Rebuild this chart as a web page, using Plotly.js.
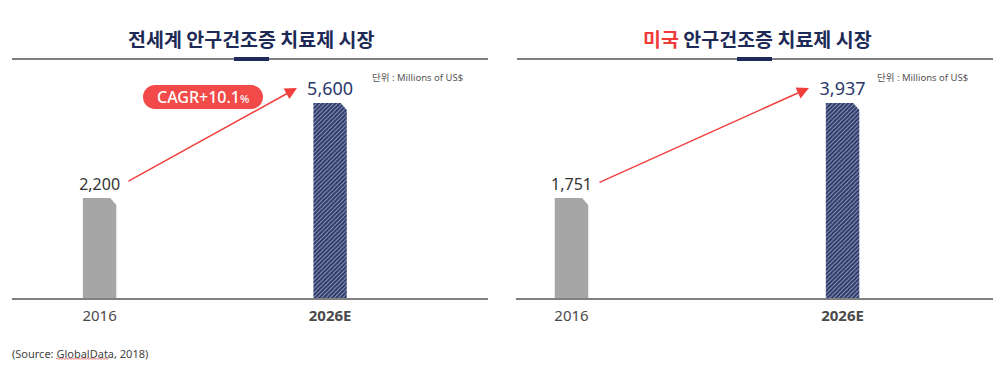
<!DOCTYPE html>
<html>
<head>
<meta charset="utf-8">
<script src="https://cdn.plot.ly/plotly-3.0.1.min.js"></script>
<style>html,body{margin:0;padding:0;background:#fff;}#chart{width:1000px;height:368px;}</style>
</head>
<body>
<div id="chart"></div>
<script>
// ---- data ----
const categories = ['2016', '2026E'];
const worldValues = [2200, 5600];
const usValues = [1751, 3937];
const worldTitle = '전세계 안구건조증 치료제 시장';
const usTitlePrefix = '미국';
const usTitleRest = ' 안구건조증 치료제 시장';
const cagrLabel = 'CAGR+10.1';
const cagrUnit = '%';
const unitLabel = '단위 : Millions of US$';
const sourceLabel = '(Source: GlobalData, 2018)';

// ---- style ----
const NAVY = '#2a386b';
const GRAY_BAR = '#a6a6a6';
const RED = '#f0403e';
const FONT = 'Noto Sans, Noto Sans CJK KR, sans-serif';
const KFONT = 'Noto Sans CJK KR, Noto Sans, sans-serif';
const W = 1000, H = 368;
const px = v => v / W;
const py = v => 1 - v / H;

function barTrace(vals, xa, ya, width) {
  return {
    type: 'bar', x: categories, y: vals, xaxis: xa, yaxis: ya, width: width,
    marker: {
      color: [GRAY_BAR, NAVY],
      line: {width: 0},
      pattern: {shape: ['', '/'], fgcolor: '#41508a', fgopacity: 0.55,
        fillmode: 'overlay', size: 3, solidity: 0.3}
    },
    text: vals.map(v => v.toLocaleString('en-US')),
    textposition: 'outside',
    constraintext: 'none',
    cliponaxis: false,
    textfont: {family: FONT, size: [16, 18], color: ['#333333', NAVY]},
    hoverinfo: 'none',
    showlegend: false
  };
}

const data = [
  barTrace(worldValues, 'x', 'y', 0.145),
  barTrace(usValues, 'x2', 'y2', 0.1236)
];

const tickText = categories.map(c => c.endsWith('E') ? '<b>' + c + '</b>' : c);
function xAxis(domain, range) {
  return {
    domain: domain, range: range, type: 'category', fixedrange: true,
    showline: true, linecolor: '#808080', linewidth: 2, showgrid: false, zeroline: false,
    ticks: '', tickvals: categories, ticktext: tickText, ticklabelstandoff: 3,
    tickfont: {family: FONT, size: 15, color: '#4a4a4a'}
  };
}
function yAxis(range, anchor) {
  return {
    domain: [py(298), py(60)], type: 'log', range: range, anchor: anchor,
    visible: false, showgrid: false, zeroline: false, fixedrange: true
  };
}

// corner cut triangles (white) at top-right of each bar
function cornerCuts(vals, xref, yref, halfW, size) {
  return vals.map((v, i) => ({
    type: 'path', xref: xref, yref: yref,
    xsizemode: 'pixel', ysizemode: 'pixel',
    xanchor: i, yanchor: v,
    path: `M ${halfW - size},1 L ${halfW + 1},1 L ${halfW + 1},${-size - 1} Z`,
    fillcolor: '#ffffff', line: {width: 0}, layer: 'above'
  }));
}

function pill(cx, cy, w, h) {
  const r = h / 2, k = 0.5523 * r, a = w / 2 - r;
  const p = `M ${-a},${r} L ${a},${r} C ${a + k},${r} ${a + r},${k} ${a + r},0 C ${a + r},${-k} ${a + k},${-r} ${a},${-r} L ${-a},${-r} C ${-a - k},${-r} ${-a - r},${-k} ${-a - r},0 C ${-a - r},${k} ${-a - k},${r} ${-a},${r} Z`;
  return {type: 'path', xref: 'paper', yref: 'paper', xsizemode: 'pixel', ysizemode: 'pixel',
    xanchor: px(cx), yanchor: py(cy), path: p, fillcolor: '#f24a48', line: {width: 0}};
}

function wavy(x0, x1, y) {
  let p = 'M 0,0';
  let up = true;
  for (let x = 1.5; x <= x1 - x0; x += 1.5) { p += ` L ${x},${up ? 1 : -0.5}`; up = !up; }
  return {type: 'path', xref: 'paper', yref: 'paper', xsizemode: 'pixel', ysizemode: 'pixel',
    xanchor: px(x0), yanchor: py(y), path: p, line: {color: '#e84a4a', width: 0.8}};
}

const shapes = [
  {type: 'line', xref: 'paper', yref: 'paper', x0: px(12), x1: px(488), y0: py(59), y1: py(59), line: {color: '#7f7f7f', width: 2}},
  {type: 'rect', xref: 'paper', yref: 'paper', x0: px(234), x1: px(269), y0: py(61), y1: py(57), fillcolor: '#1e2a5a', line: {width: 0}},
  {type: 'line', xref: 'paper', yref: 'paper', x0: px(517), x1: px(993), y0: py(59), y1: py(59), line: {color: '#7f7f7f', width: 2}},
  {type: 'rect', xref: 'paper', yref: 'paper', x0: px(737), x1: px(772), y0: py(61), y1: py(57), fillcolor: '#1e2a5a', line: {width: 0}},
  ...cornerCuts(worldValues, 'x', 'y', 16.7, 7),
  ...cornerCuts(usValues, 'x2', 'y2', 16.7, 7),
  pill(203, 97, 120, 24),
  wavy(56, 109, 359)
];

const annotations = [
  {xref: 'paper', yref: 'paper', x: px(251), y: py(38), text: worldTitle, showarrow: false,
    xanchor: 'center', yanchor: 'middle', font: {family: KFONT, size: 19.5, color: '#1e2a56', weight: 700}},
  {xref: 'paper', yref: 'paper', x: px(757), y: py(38),
    text: `<span style="color:#f03a3a">${usTitlePrefix}</span>${usTitleRest}`, showarrow: false,
    xanchor: 'center', yanchor: 'middle', font: {family: KFONT, size: 19.5, color: '#1e2a56', weight: 700}},
  {xref: 'paper', yref: 'paper', x: px(370), y: py(78), text: unitLabel, showarrow: false,
    xanchor: 'left', yanchor: 'middle', font: {family: FONT, size: 9.5, color: '#555555'}},
  {xref: 'paper', yref: 'paper', x: px(875), y: py(78), text: unitLabel, showarrow: false,
    xanchor: 'left', yanchor: 'middle', font: {family: FONT, size: 9.5, color: '#555555'}},
  // growth arrows
  {xref: 'paper', yref: 'paper', x: px(297), y: py(88), ax: 127 - 297, ay: 182 - 88, text: '',
    showarrow: true, arrowhead: 2, arrowsize: 1.6, arrowwidth: 1.5, arrowcolor: RED, standoff: 0},
  {xref: 'paper', yref: 'paper', x: px(809), y: py(88), ax: 598 - 809, ay: 183 - 88, text: '',
    showarrow: true, arrowhead: 2, arrowsize: 1.6, arrowwidth: 1.5, arrowcolor: RED, standoff: 0},
  {xref: 'paper', yref: 'paper', x: px(203), y: py(97), showarrow: false,
    text: `${cagrLabel}<span style="font-size:11px">${cagrUnit}</span>`,
    xanchor: 'center', yanchor: 'middle', font: {family: FONT, size: 16, color: '#ffffff', weight: 500}},
  {xref: 'paper', yref: 'paper', x: px(10), y: py(353), text: sourceLabel, showarrow: false,
    xanchor: 'left', yanchor: 'middle', font: {family: FONT, size: 11, color: '#444444'}}
];

const layout = {
  width: W, height: H, autosize: false,
  margin: {l: 0, r: 0, t: 0, b: 0, pad: 0},
  paper_bgcolor: '#ffffff', plot_bgcolor: '#ffffff',
  showlegend: false,
  xaxis: xAxis([px(12), px(488)], [-0.38, 1.685]),
  yaxis: yAxis([2.9153, 2.9153 + 238 / 234], 'x'),
  xaxis2: xAxis([px(516), px(993)], [-0.2048, 1.555]),
  yaxis2: yAxis([2.873, 2.873 + 238 / 270], 'x2'),
  shapes: shapes,
  annotations: annotations
};
layout.xaxis.anchor = 'y';
layout.xaxis2.anchor = 'y2';

Plotly.newPlot('chart', data, layout, {displayModeBar: false, staticPlot: true});
</script>
</body>
</html>
